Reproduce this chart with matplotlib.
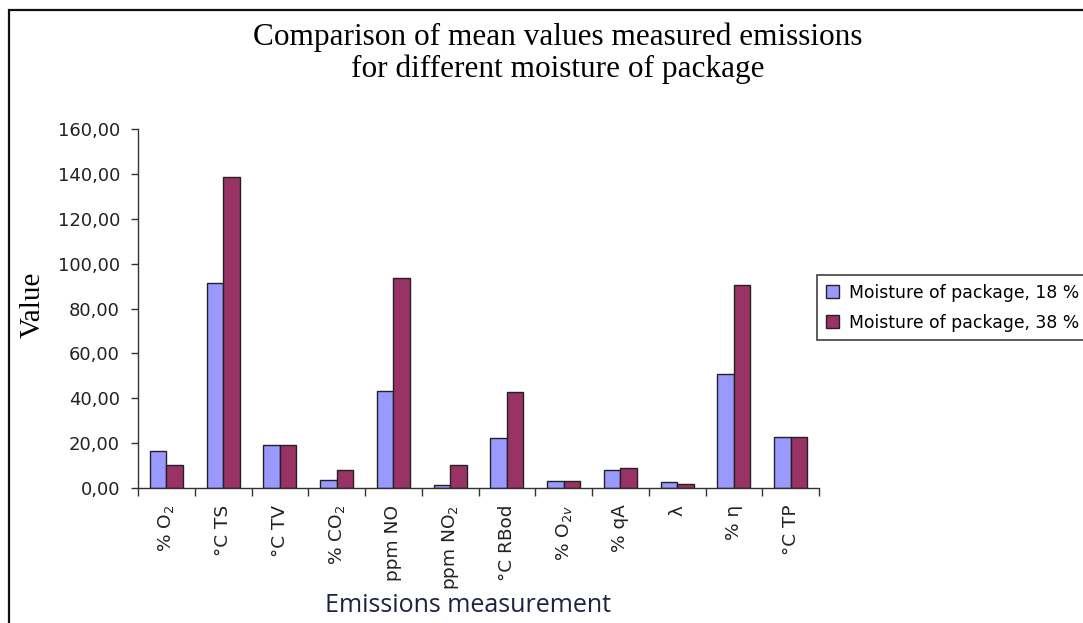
import numpy as np
import matplotlib
matplotlib.use('Agg')
import matplotlib.pyplot as plt
from matplotlib.patches import Rectangle
from matplotlib.ticker import FuncFormatter, FixedLocator

# ============================================================
# data
# ============================================================
categories = ['% O$_2$', '°C TS', '°C TV', '% CO$_2$', 'ppm NO', 'ppm NO$_2$',
              '°C RBod', '% O$_{2v}$', '% qA', 'λ', '% η', '°C TP']
moist_18 = [16.4, 91.2, 19.3, 3.7, 43.3, 1.2, 22.3, 3.1, 7.9, 2.5, 51.0, 22.9]
moist_38 = [10.1, 138.5, 19.3, 7.9, 93.6, 10.1, 42.6, 3.1, 9.1, 1.9, 90.6, 22.9]
series_labels = ['Moisture of package, 18 %', 'Moisture of package, 38 %']

BLUE = '#9999FF'
PLUM = '#993366'

fig = plt.figure(figsize=(10.83, 6.23), dpi=100)
ax = fig.add_axes([138 / 1083, 1 - 488 / 623, (819 - 138) / 1083, (488 - 129) / 623])

x = np.arange(len(categories))
w = 0.29
ax.bar(x - w / 2, moist_18, w, color=BLUE, edgecolor='#222222', lw=1.0,
       label=series_labels[0], zorder=2)
ax.bar(x + w / 2, moist_38, w, color=PLUM, edgecolor='#222222', lw=1.0,
       label=series_labels[1], zorder=2)

ax.set_xlim(-0.5, len(categories) - 0.5)
ax.set_ylim(0, 160)
ax.set_yticks(np.arange(0, 161, 20))
ax.yaxis.set_major_formatter(FuncFormatter(lambda v, p: f'{v:.2f}'.replace('.', ',')))
ax.tick_params(axis='y', direction='out', length=5, width=1, color='#333333',
               labelsize=13, pad=8)
for lab in ax.get_yticklabels():
    lab.set_family('DejaVu Sans')
    lab.set_color('#222222')

# category labels at centres, tick marks at the boundaries
ax.set_xticks(x)
ax.set_xticklabels(categories, rotation=90, fontsize=13.3, family='DejaVu Sans',
                   color='#222222')
ax.tick_params(axis='x', which='major', length=0, pad=12)
ax.xaxis.set_minor_locator(FixedLocator(np.arange(-0.5, len(categories), 1.0)))
ax.tick_params(axis='x', which='minor', direction='out', length=6, width=1,
               color='#333333')

for s in ['top', 'right']:
    ax.spines[s].set_visible(False)
for s in ['left', 'bottom']:
    ax.spines[s].set_color('#333333')
    ax.spines[s].set_linewidth(1.0)

# axis titles placed where the reference has them
fig.text(33 / 1083, 1 - 305 / 623, 'Value', rotation=90, ha='center', va='center',
         family='Liberation Serif', fontsize=21)
fig.text(468 / 1083, 1 - 605 / 623, 'Emissions measurement', ha='center',
         va='center', family='Open Sans', fontsize=18, color='#1c2340')

fig.text(558 / 1083, 1 - 53 / 623,
         'Comparison of mean values measured emissions\nfor different moisture of package',
         ha='center', va='center', family='Liberation Serif', fontsize=22.5,
         linespacing=1.1)

leg = fig.legend(loc='upper left', bbox_to_anchor=(817 / 1083, 1 - 275 / 623),
                 frameon=True, fancybox=False, shadow=False,
                 prop={'family': 'DejaVu Sans', 'size': 12.4},
                 handlelength=0.75, handleheight=0.75, handletextpad=0.6,
                 borderpad=0.5, labelspacing=0.7, borderaxespad=0)
leg.get_frame().set_edgecolor('#111111')
leg.get_frame().set_linewidth(1.2)

# outer frame of the chart area (only left and top visible)
fig.patches.append(Rectangle((8.5 / 1083, -0.05), 1.2, 1 - 9.5 / 623 + 0.05,
                             transform=fig.transFigure, fill=False,
                             edgecolor='#111111', lw=1.6))

fig.savefig('out.png', dpi=100)
